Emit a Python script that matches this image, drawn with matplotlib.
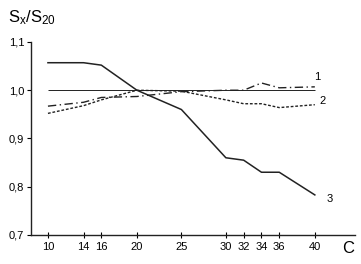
import matplotlib
matplotlib.use('Agg')
import matplotlib.pyplot as plt

plt.rcParams['font.family'] = ['Liberation Sans', 'DejaVu Sans']
plt.rcParams['mathtext.fontset'] = 'custom'
plt.rcParams['mathtext.rm'] = 'Liberation Sans'
plt.rcParams['mathtext.it'] = 'Liberation Sans'

# concentration values (x axis)
C = [10, 14, 16, 20, 25, 30, 32, 34, 36, 40]
# curves 1, 2, 3
s1 = [0.967, 0.975, 0.985, 0.987, 0.997, 1.0, 1.0, 1.015, 1.005, 1.007]
s2 = [0.952, 0.968, 0.98, 1.0, 0.998, 0.98, 0.972, 0.972, 0.964, 0.97]
s3 = [1.057, 1.057, 1.052, 1.0, 0.96, 0.86, 0.855, 0.83, 0.83, 0.783]
yticks = [0.7, 0.8, 0.9, 1.0, 1.1]
ylabels = ['0,7', '0,8', '0,9', '1,0', '1,1']

fig = plt.figure(figsize=(3.61, 2.64), dpi=100)
ax = fig.add_axes([0.086, 0.110, 0.897, 0.731])

col = '#222222'
ax.hlines(1.0, C[0], C[-1], color=col, lw=0.7)
ax.plot(C, s1, color=col, lw=1.0, dashes=(6, 2.5, 1, 2.5))
ax.plot(C, s2, color=col, lw=1.0, dashes=(2, 1.3))
ax.plot(C, s3, color=col, lw=1.1)

ax.text(C[-1] - 0.1, s1[-1] + 0.02, '1', fontsize=8, ha='left', va='center')
ax.text(C[-1] + 0.5, s2[-1] + 0.008, '2', fontsize=8, ha='left', va='center')
ax.text(C[-1] + 1.3, s3[-1] - 0.008, '3', fontsize=8, ha='left', va='center')

ax.set_xlim(8.1, 44.5)
ax.set_ylim(0.7, 1.1)
ax.set_xticks(C)
ax.set_xticklabels([str(c) for c in C], fontsize=8)
ax.set_yticks(yticks)
ax.set_yticklabels(ylabels, fontsize=8)
ax.tick_params(axis='x', direction='inout', length=4, width=0.8, pad=3)
ax.tick_params(axis='y', direction='out', length=3, width=0.8, pad=2)
for s in ['top', 'right']:
    ax.spines[s].set_visible(False)
for s in ['left', 'bottom']:
    ax.spines[s].set_linewidth(1.0)
    ax.spines[s].set_color(col)

fig.text(0.022, 0.935, r'$\mathregular{S_{x}/S_{20}}$', fontsize=12, va='center')
fig.text(0.964, 0.06, 'C', fontsize=12, ha='center', va='center')

fig.savefig('out.png', dpi=100)
